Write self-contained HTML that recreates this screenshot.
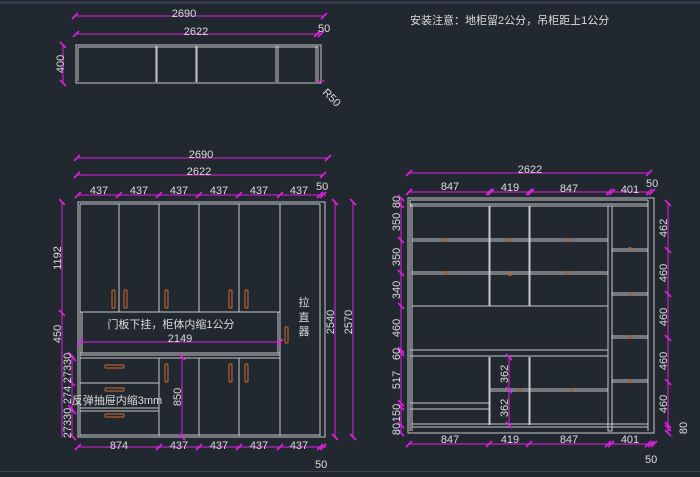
<!DOCTYPE html>
<html><head><meta charset="utf-8"><style>
html,body{margin:0;padding:0;background:#212830;}
svg{display:block}
text{font-family:"Liberation Sans","Noto Sans CJK SC",sans-serif;fill:#dcdcdc;font-size:11px}
.m{stroke:#e020e0;stroke-width:1;fill:none}
.t{stroke:#e020e0;stroke-width:1.6}
.w{stroke:#c8c8c8;stroke-width:1;fill:none}
.h{stroke:#b06030;stroke-width:1.2;fill:none}
</style></head><body>
<svg width="700" height="477" viewBox="0 0 700 477" xmlns="http://www.w3.org/2000/svg">
<rect width="700" height="477" fill="#212830"/>
<line x1="0" y1="2.5" x2="700" y2="2.5" stroke="#3c4252" stroke-width="2"/>
<line x1="0" y1="471.5" x2="700" y2="471.5" stroke="#3c4252" stroke-width="1"/>
<text x="410" y="24">安装注意：地柜留2公分，吊柜距上1公分</text>

<!-- TOP PLAN -->
<g>
<line class="m" x1="75" y1="16" x2="324" y2="16"/>
<line class="t" x1="72" y1="19" x2="78" y2="13"/><line class="t" x1="321" y1="19" x2="327" y2="13"/>
<text x="184" y="17" text-anchor="middle">2690</text>
<line class="m" x1="76" y1="34" x2="322" y2="34"/>
<line class="t" x1="73" y1="37" x2="79" y2="31"/><line class="t" x1="314" y1="37" x2="320" y2="31"/><line class="t" x1="318" y1="37" x2="324" y2="31"/>
<text x="196" y="35" text-anchor="middle">2622</text>
<text x="318" y="32">50</text>
<rect class="w" x="76" y="45" width="245" height="38"/>
<line class="w" x1="78" y1="47" x2="318" y2="47"/>
<line class="w" x1="78" y1="47" x2="78" y2="81"/>
<line class="w" x1="156" y1="46" x2="156" y2="82"/><line class="w" x1="157" y1="46" x2="157" y2="82"/>
<line class="w" x1="196" y1="46" x2="196" y2="82"/><line class="w" x1="197" y1="46" x2="197" y2="82"/>
<line class="w" x1="276" y1="46" x2="276" y2="82"/><line class="w" x1="278" y1="46" x2="278" y2="82"/>
<line class="w" x1="316" y1="46" x2="316" y2="82"/><line class="w" x1="318" y1="46" x2="318" y2="82"/>
<line class="m" x1="63" y1="45" x2="63" y2="83"/>
<line class="t" x1="60" y1="42" x2="66" y2="48"/><line class="t" x1="60" y1="80" x2="66" y2="86"/>
<text transform="translate(64,64) rotate(-90)" text-anchor="middle">400</text>
<line class="m" x1="316" y1="81" x2="325" y2="81"/>
<text transform="translate(322,93) rotate(45)">R50</text>
</g>

<!-- LEFT ELEVATION dims -->
<g>
<line class="m" x1="77" y1="158" x2="328" y2="158"/>
<line class="t" x1="74" y1="161" x2="80" y2="155"/><line class="t" x1="325" y1="161" x2="331" y2="155"/>
<text x="201" y="158" text-anchor="middle">2690</text>
<line class="m" x1="77" y1="175" x2="323" y2="175"/>
<line class="t" x1="74" y1="178" x2="80" y2="172"/><line class="t" x1="320" y1="178" x2="326" y2="172"/>
<text x="199" y="175" text-anchor="middle">2622</text>
<line class="m" x1="78" y1="195" x2="326" y2="195"/>
<line class="t" x1="75" y1="198" x2="81" y2="192"/>
<line class="t" x1="116" y1="198" x2="122" y2="192"/>
<line class="t" x1="156" y1="198" x2="162" y2="192"/>
<line class="t" x1="196" y1="198" x2="202" y2="192"/>
<line class="t" x1="236" y1="198" x2="242" y2="192"/>
<line class="t" x1="277" y1="198" x2="283" y2="192"/>
<line class="t" x1="317" y1="198" x2="323" y2="192"/><line class="t" x1="320" y1="198" x2="326" y2="192"/>
<text x="99" y="194" text-anchor="middle">437</text>
<text x="139" y="194" text-anchor="middle">437</text>
<text x="179" y="194" text-anchor="middle">437</text>
<text x="219" y="194" text-anchor="middle">437</text>
<text x="259" y="194" text-anchor="middle">437</text>
<text x="299" y="194" text-anchor="middle">437</text>
<text x="316" y="190">50</text>

<line class="m" x1="62" y1="202" x2="62" y2="437"/>
<line class="t" x1="59" y1="199" x2="65" y2="205"/>
<line class="t" x1="59" y1="310" x2="65" y2="316"/>
<line class="t" x1="68" y1="352" x2="74" y2="358"/><line class="t" x1="70" y1="355" x2="76" y2="361"/>
<line class="t" x1="69" y1="380" x2="75" y2="386"/>
<line class="t" x1="68" y1="405" x2="74" y2="411"/><line class="t" x1="70" y1="408" x2="76" y2="414"/>
<line class="t" x1="70" y1="434" x2="76" y2="440"/>
<line class="m" x1="72" y1="355" x2="72" y2="437"/>
<text transform="translate(61,258) rotate(-90)" text-anchor="middle">1192</text>
<text transform="translate(61,334) rotate(-90)" text-anchor="middle">450</text>
<text transform="translate(71,368) rotate(-90)" text-anchor="middle">27330</text>
<text transform="translate(71,395) rotate(-90)" text-anchor="middle">274</text>
<text transform="translate(71,423) rotate(-90)" text-anchor="middle">27330</text>

<line class="m" x1="78" y1="447" x2="326" y2="447"/>
<line class="t" x1="75" y1="450" x2="81" y2="444"/>
<line class="t" x1="156" y1="450" x2="162" y2="444"/>
<line class="t" x1="196" y1="450" x2="202" y2="444"/>
<line class="t" x1="236" y1="450" x2="242" y2="444"/>
<line class="t" x1="277" y1="450" x2="283" y2="444"/>
<line class="t" x1="317" y1="450" x2="323" y2="444"/><line class="t" x1="320" y1="450" x2="326" y2="444"/>
<text x="119" y="449" text-anchor="middle">874</text>
<text x="179" y="449" text-anchor="middle">437</text>
<text x="219" y="449" text-anchor="middle">437</text>
<text x="259" y="449" text-anchor="middle">437</text>
<text x="299" y="449" text-anchor="middle">437</text>
<text x="315" y="468">50</text>

<line class="m" x1="335" y1="202" x2="335" y2="437"/>
<line class="t" x1="332" y1="199" x2="338" y2="205"/><line class="t" x1="332" y1="434" x2="338" y2="440"/>
<line class="m" x1="353" y1="202" x2="353" y2="437"/>
<line class="t" x1="350" y1="199" x2="356" y2="205"/><line class="t" x1="350" y1="434" x2="356" y2="440"/>
<text transform="translate(334,322) rotate(-90)" text-anchor="middle">2540</text>
<text transform="translate(352,322) rotate(-90)" text-anchor="middle">2570</text>
</g>

<!-- LEFT ELEVATION body -->
<g>
<rect class="w" x="78" y="202" width="247" height="235"/>
<line class="w" x1="80" y1="204" x2="320" y2="204"/>
<line class="w" x1="80" y1="204" x2="80" y2="436"/>
<line class="w" x1="320" y1="204" x2="320" y2="436"/>
<line class="w" x1="119" y1="204" x2="119" y2="312"/>
<line class="w" x1="159" y1="204" x2="159" y2="312"/>
<line class="w" x1="199" y1="204" x2="199" y2="312"/>
<line class="w" x1="239" y1="204" x2="239" y2="312"/>
<line class="w" x1="280" y1="204" x2="280" y2="436"/>
<line class="w" x1="80" y1="312" x2="280" y2="312"/>
<line class="w" x1="82" y1="312" x2="82" y2="353"/>
<line class="w" x1="278" y1="312" x2="278" y2="353"/>
<line class="w" x1="80" y1="353" x2="280" y2="353"/>
<line class="w" x1="80" y1="355" x2="280" y2="355"/>
<line class="w" x1="80" y1="358" x2="280" y2="358"/>
<line class="w" x1="80" y1="383" x2="159" y2="383"/>
<line class="w" x1="80" y1="408" x2="159" y2="408"/>
<line class="w" x1="80" y1="411" x2="159" y2="411"/>
<line class="w" x1="159" y1="358" x2="159" y2="436"/>
<line class="w" x1="199" y1="358" x2="199" y2="436"/>
<line class="w" x1="239" y1="358" x2="239" y2="436"/>
<line class="w" x1="80" y1="435" x2="320" y2="435"/>
<rect class="h" x="112" y="290" width="3" height="18" rx="1"/>
<rect class="h" x="124" y="290" width="3" height="18" rx="1"/>
<rect class="h" x="165" y="290" width="3" height="18" rx="1"/>
<rect class="h" x="229" y="290" width="3" height="18" rx="1"/>
<rect class="h" x="245" y="290" width="3" height="18" rx="1"/>
<rect class="h" x="285" y="327" width="3" height="16" rx="1"/>
<rect class="h" x="105" y="365" width="19" height="3" rx="1"/>
<rect class="h" x="105" y="388" width="19" height="3" rx="1"/>
<rect class="h" x="105" y="414" width="19" height="3" rx="1"/>
<rect class="h" x="165" y="364" width="3" height="18" rx="1"/>
<rect class="h" x="229" y="364" width="3" height="18" rx="1"/>
<rect class="h" x="245" y="364" width="3" height="18" rx="1"/>
<text x="304" y="306" text-anchor="middle">拉</text>
<text x="304" y="321" text-anchor="middle">直</text>
<text x="304" y="335" text-anchor="middle">器</text>
<text x="171" y="328" text-anchor="middle">门板下挂，柜体内缩1公分</text>
<line class="m" x1="80" y1="342" x2="280" y2="342"/>
<line class="t" x1="77" y1="345" x2="83" y2="339"/><line class="t" x1="277" y1="345" x2="283" y2="339"/>
<text x="180" y="342" text-anchor="middle">2149</text>
<line class="m" x1="182" y1="357" x2="182" y2="437"/>
<line class="t" x1="179" y1="354" x2="185" y2="360"/><line class="t" x1="179" y1="434" x2="185" y2="440"/>
<text transform="translate(181,397) rotate(-90)" text-anchor="middle">850</text>
<text x="117" y="404" text-anchor="middle">反弹抽屉内缩3mm</text>
</g>

<!-- RIGHT ELEVATION dims -->
<g>
<line class="m" x1="410" y1="173" x2="650" y2="173"/>
<line class="t" x1="406" y1="176" x2="412" y2="170"/><line class="t" x1="646" y1="176" x2="652" y2="170"/>
<text x="530" y="173" text-anchor="middle">2622</text>
<line class="m" x1="410" y1="192" x2="650" y2="192"/>
<line class="t" x1="406" y1="195" x2="412" y2="189"/>
<line class="t" x1="486" y1="195" x2="492" y2="189"/><line class="t" x1="488" y1="195" x2="494" y2="189"/>
<line class="t" x1="526" y1="195" x2="532" y2="189"/><line class="t" x1="528" y1="195" x2="534" y2="189"/>
<line class="t" x1="606" y1="195" x2="612" y2="189"/><line class="t" x1="609" y1="195" x2="615" y2="189"/>
<line class="t" x1="646" y1="195" x2="652" y2="189"/><line class="t" x1="649" y1="195" x2="655" y2="189"/>
<text x="450" y="190" text-anchor="middle">847</text>
<text x="510" y="191" text-anchor="middle">419</text>
<text x="569" y="192" text-anchor="middle">847</text>
<text x="630" y="193" text-anchor="middle">401</text>
<text x="646" y="187">50</text>

<line class="m" x1="401" y1="198" x2="401" y2="433"/>
<line class="t" x1="398" y1="195" x2="404" y2="201"/><line class="t" x1="398" y1="202" x2="404" y2="208"/>
<line class="t" x1="398" y1="237" x2="404" y2="243"/>
<line class="t" x1="398" y1="270" x2="404" y2="276"/>
<line class="t" x1="398" y1="303" x2="404" y2="309"/>
<line class="t" x1="398" y1="347" x2="404" y2="353"/><line class="t" x1="398" y1="350" x2="404" y2="356"/>
<line class="t" x1="398" y1="400" x2="404" y2="406"/><line class="t" x1="398" y1="404" x2="404" y2="410"/>
<line class="t" x1="398" y1="422" x2="404" y2="428"/><line class="t" x1="398" y1="430" x2="404" y2="436"/>
<text transform="translate(400,202) rotate(-90)" text-anchor="middle">80</text>
<text transform="translate(400,222) rotate(-90)" text-anchor="middle">350</text>
<text transform="translate(400,257) rotate(-90)" text-anchor="middle">350</text>
<text transform="translate(400,290) rotate(-90)" text-anchor="middle">340</text>
<text transform="translate(400,328) rotate(-90)" text-anchor="middle">460</text>
<text transform="translate(400,354) rotate(-90)" text-anchor="middle">60</text>
<text transform="translate(400,380) rotate(-90)" text-anchor="middle">517</text>
<text transform="translate(400,413) rotate(-90)" text-anchor="middle">150</text>
<text transform="translate(400,429) rotate(-90)" text-anchor="middle">80</text>

<line class="m" x1="668" y1="203" x2="668" y2="433"/>
<line class="t" x1="665" y1="200" x2="671" y2="206"/>
<line class="t" x1="665" y1="247" x2="671" y2="253"/>
<line class="t" x1="665" y1="291" x2="671" y2="297"/>
<line class="t" x1="665" y1="335" x2="671" y2="341"/>
<line class="t" x1="665" y1="379" x2="671" y2="385"/>
<line class="t" x1="665" y1="422" x2="671" y2="428"/><line class="t" x1="665" y1="425" x2="671" y2="431"/>
<line class="t" x1="665" y1="430" x2="671" y2="436"/>
<text transform="translate(667,228) rotate(-90)" text-anchor="middle">462</text>
<text transform="translate(667,273) rotate(-90)" text-anchor="middle">460</text>
<text transform="translate(667,317) rotate(-90)" text-anchor="middle">460</text>
<text transform="translate(667,361) rotate(-90)" text-anchor="middle">460</text>
<text transform="translate(667,404) rotate(-90)" text-anchor="middle">460</text>
<text transform="translate(687,428) rotate(-90)" text-anchor="middle">80</text>

<line class="m" x1="408" y1="444" x2="654" y2="444"/>
<line class="t" x1="406" y1="447" x2="412" y2="441"/>
<line class="t" x1="486" y1="447" x2="492" y2="441"/>
<line class="t" x1="526" y1="447" x2="532" y2="441"/>
<line class="t" x1="605" y1="447" x2="611" y2="441"/><line class="t" x1="608" y1="447" x2="614" y2="441"/>
<line class="t" x1="645" y1="447" x2="651" y2="441"/><line class="t" x1="648" y1="447" x2="654" y2="441"/><line class="t" x1="651" y1="447" x2="657" y2="441"/>
<text x="450" y="443" text-anchor="middle">847</text>
<text x="510" y="443" text-anchor="middle">419</text>
<text x="569" y="443" text-anchor="middle">847</text>
<text x="630" y="443" text-anchor="middle">401</text>
<text x="645" y="463">50</text>
</g>

<!-- RIGHT ELEVATION body -->
<g>
<rect class="w" x="408" y="198" width="246" height="235"/>
<line class="w" x1="410" y1="200" x2="648" y2="200"/>
<line class="w" x1="648" y1="200" x2="648" y2="431"/>
<line class="w" x1="410" y1="200" x2="410" y2="431"/>
<line class="w" x1="412" y1="205" x2="412" y2="431"/>
<rect class="w" x="411" y="204" width="237" height="2"/>
<line class="w" x1="489" y1="206" x2="489" y2="306"/><line class="w" x1="490" y1="206" x2="490" y2="306"/>
<line class="w" x1="529" y1="206" x2="529" y2="306"/><line class="w" x1="530" y1="206" x2="530" y2="306"/>
<rect class="w" x="608" y="206" width="4" height="225"/>
<rect class="w" x="412" y="239" width="196" height="2"/>
<rect class="w" x="412" y="272" width="196" height="2"/>
<line class="w" x1="412" y1="306" x2="608" y2="306"/>
<rect class="w" x="410" y="350" width="198" height="6"/>
<line class="w" x1="489" y1="357" x2="489" y2="425"/><line class="w" x1="490" y1="357" x2="490" y2="425"/>
<line class="w" x1="529" y1="357" x2="529" y2="425"/><line class="w" x1="530" y1="357" x2="530" y2="425"/>
<rect class="w" x="490" y="389" width="118" height="2"/>
<rect class="w" x="410" y="403" width="79" height="6"/>
<rect class="w" x="412" y="424" width="236" height="3"/>
<rect class="w" x="612" y="249" width="36" height="2"/>
<rect class="w" x="612" y="293" width="36" height="2"/>
<rect class="w" x="612" y="336" width="36" height="2"/>
<rect class="w" x="612" y="380" width="36" height="2"/>
<g fill="none" stroke="#b06030" stroke-width="1">
<circle cx="445" cy="240" r="1.6"/><circle cx="509" cy="240" r="1.6"/><circle cx="569" cy="240" r="1.6"/>
<circle cx="446" cy="273" r="1.6"/><circle cx="510" cy="274" r="1.6"/><circle cx="567" cy="273" r="1.6"/>
<circle cx="630" cy="249" r="1.6"/><circle cx="630" cy="294" r="1.6"/>
<circle cx="630" cy="337" r="1.6"/><circle cx="630" cy="381" r="1.6"/>
<circle cx="519" cy="390" r="1.6"/><circle cx="571" cy="390" r="1.6"/>
</g>
<line class="m" x1="509" y1="357" x2="509" y2="425"/>
<line class="t" x1="506" y1="354" x2="512" y2="360"/><line class="t" x1="506" y1="387" x2="512" y2="393"/><line class="t" x1="506" y1="422" x2="512" y2="428"/>
<text transform="translate(508,374) rotate(-90)" text-anchor="middle">362</text>
<text transform="translate(508,408) rotate(-90)" text-anchor="middle">362</text>
</g>
</svg>
</body></html>
